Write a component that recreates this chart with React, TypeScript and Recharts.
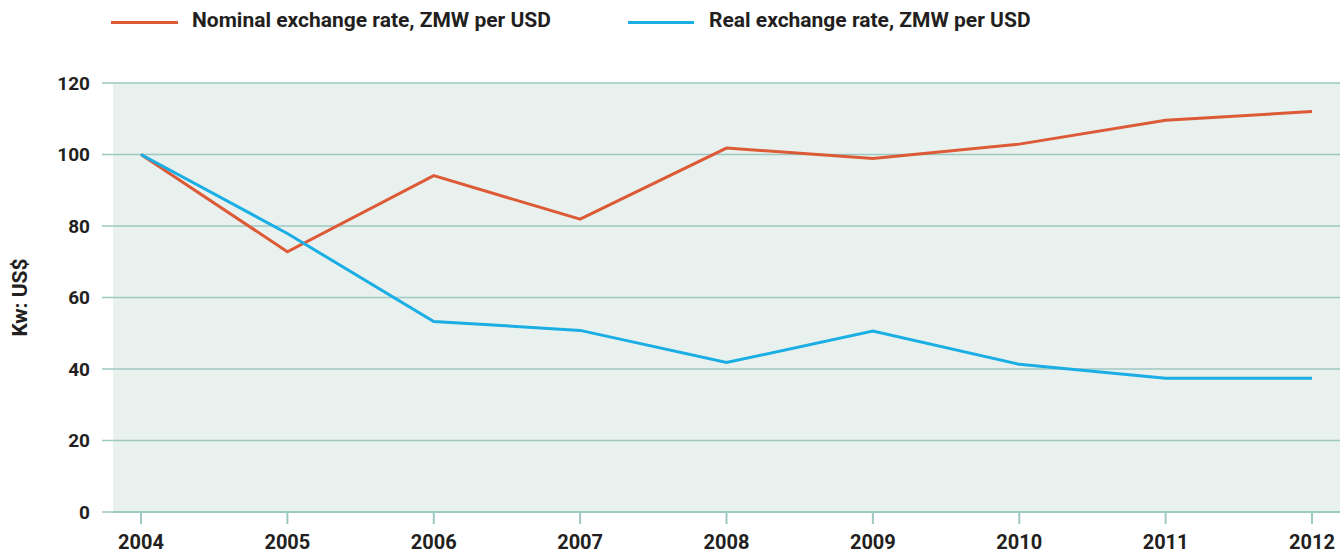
import { LineChart, Line, XAxis, YAxis, CartesianGrid, Legend } from "recharts";

const years = ["2004", "2005", "2006", "2007", "2008", "2009", "2010", "2011", "2012"];
const nominal = [100, 72.8, 94.1, 81.9, 101.8, 98.9, 102.9, 109.6, 112];
const real = [100, 77.9, 53.3, 50.8, 41.8, 50.6, 41.3, 37.4, 37.4];
const yTicks = [0, 20, 40, 60, 80, 100, 120];

const NOMINAL = "#dd5a37";
const REAL = "#1aaee5";
const GRID = "#9dc9c0";
const BG = "#e8f1ee";
const TEXT = "#231f20";
const FONT = "Roboto, 'Noto Sans', sans-serif";

const data = years.map((year, i) => ({ year, nominal: nominal[i], real: real[i] }));

const LegendBox = () => (
  <div style={{ position: "relative", height: 44, fontFamily: FONT, fontWeight: 700, fontSize: 21, color: TEXT }}>
    <div style={{ position: "absolute", left: 111, top: 21, width: 67, height: 3, background: NOMINAL }} />
    <div style={{ position: "absolute", left: 192, top: 8, whiteSpace: "nowrap" }}>Nominal exchange rate, ZMW per USD</div>
    <div style={{ position: "absolute", left: 628, top: 21, width: 66, height: 3, background: REAL }} />
    <div style={{ position: "absolute", left: 709, top: 8, whiteSpace: "nowrap" }}>Real exchange rate, ZMW per USD</div>
  </div>
);

const YLabel = ({ viewBox }: any) => {
  const cy = viewBox.y + viewBox.height / 2;
  return (
    <text x={27} y={cy} transform={`rotate(-90 27 ${cy})`} textAnchor="middle"
      fontFamily={FONT} fontWeight={700} fontSize={21} fill={TEXT}>
      Kw: US$
    </text>
  );
};

export default function App() {
  return (
    <div style={{ position: "absolute", left: 0, top: 0, width: 1344, height: 555, background: "#fff" }}>
      <LineChart width={1344} height={555} data={data} margin={{ top: 83, right: 4, bottom: 0, left: 0 }}>
        <CartesianGrid vertical={false} stroke={GRID} strokeWidth={1.5} fill={BG} fillOpacity={1} />
        <XAxis dataKey="year" height={43} padding={{ left: 28, right: 28 }}
          axisLine={{ stroke: GRID, strokeWidth: 2 }} tickLine={{ stroke: GRID, strokeWidth: 2 }}
          tickSize={12} tickMargin={11}
          tick={{ fontSize: 20, fontWeight: 700, fill: TEXT, fontFamily: FONT }} />
        <YAxis width={113} domain={[0, 120]} ticks={yTicks} axisLine={false}
          tickLine={{ stroke: GRID, strokeWidth: 1.5 }} tickSize={11} tickMargin={12}
          tick={{ fontSize: 19, fontWeight: 700, fill: TEXT, fontFamily: FONT }}
          label={{ content: YLabel }} />
        <Legend verticalAlign="middle" align="center" layout="horizontal"
          wrapperStyle={{ top: 0, left: 0, width: 1344 }} content={() => <LegendBox />} />
        <Line type="linear" dataKey="nominal" stroke={NOMINAL} strokeWidth={3} dot={false} isAnimationActive={false} />
        <Line type="linear" dataKey="real" stroke={REAL} strokeWidth={3} dot={false} isAnimationActive={false} />
      </LineChart>
    </div>
  );
}
